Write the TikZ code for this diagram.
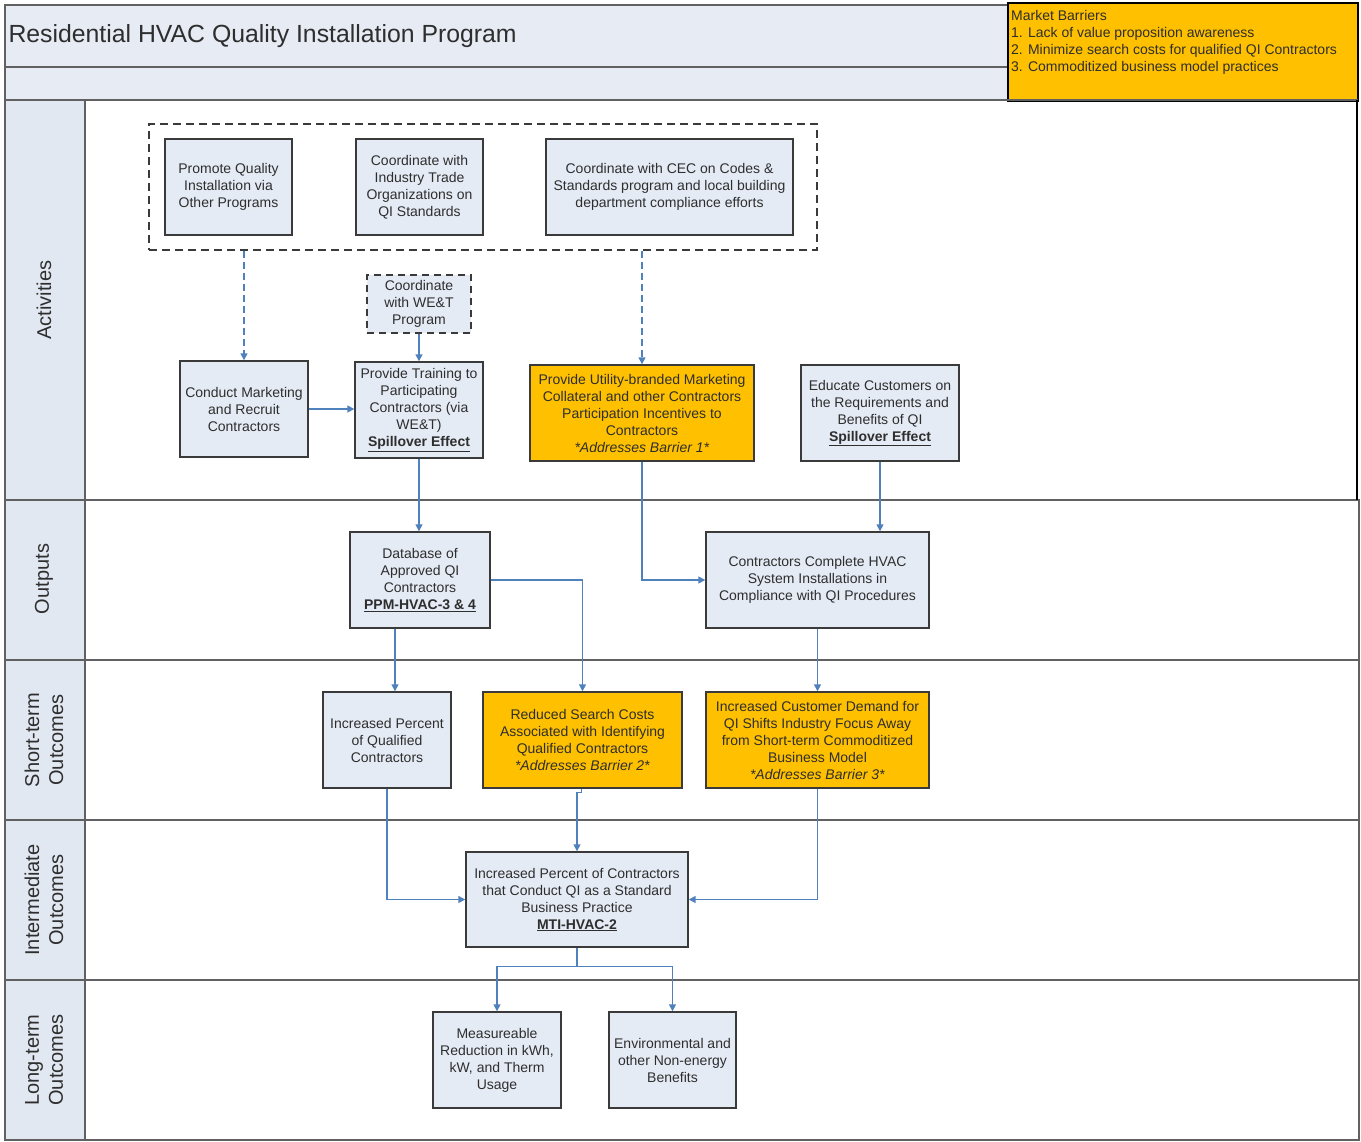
\documentclass[tikz,border=0pt]{standalone}
\usepackage{fontspec}
\setmainfont{Liberation Sans}
\usetikzlibrary{arrows.meta}

\definecolor{boxfill}{HTML}{E5EBF5}
\definecolor{bandfill}{HTML}{E6EBF4}
\definecolor{lanefill}{HTML}{E2E8F2}
\definecolor{gold}{HTML}{FFC000}
\definecolor{flow}{HTML}{4F81BD}
\definecolor{edge}{HTML}{3A3A3A}
\definecolor{txt}{HTML}{2E2E2E}

\tikzset{
  box/.style={draw=edge, fill=boxfill, line width=1.4pt, align=center,
    inner sep=2pt, text=txt, font=\fontsize{14}{17}\selectfont},
  goldbox/.style={box, fill=gold},
  dashbox/.style={box, dash pattern=on 7pt off 5pt},
  grpbox/.style={draw=edge, line width=1.4pt, dash pattern=on 8pt off 5pt},
  arr/.style={draw=flow, line width=1.5pt, -{Triangle[length=7pt,width=7pt]}},
  darr/.style={arr, dash pattern=on 7pt off 4pt},
  lanetxt/.style={rotate=90, align=center, text=txt,
    font=\fontsize{20}{24}\selectfont},
  lane/.style={draw=edge!80, line width=1.5pt}
}
\newcommand{\spill}{\textbf{\underline{Spillover Effect}}}

\begin{document}
\begin{tikzpicture}[x=1pt, y=-1pt]
\useasboundingbox (0,0) rectangle (1361,1142);
\fill[white] (0,0) rectangle (1361,1142);

% header bands
\draw[lane, fill=bandfill] (5,5) rectangle (1358,67);
\draw[lane, fill=bandfill] (5,67) rectangle (1358,100);
\node[anchor=west, text=txt, font=\fontsize{24.8}{28}\selectfont] (title) at (5,36)
  {Residential HVAC Quality Installation Program};

% market barriers panel
\draw[line width=2.4pt, fill=gold] (1008,3) rectangle (1358,101);
\node[anchor=north west, align=left, inner sep=0pt, text=txt,
  font=\fontsize{14}{17}\selectfont] (barriers) at (1011,10)
  {Market Barriers\\
   1. Lack of value proposition awareness\\
   2. Minimize search costs for qualified QI Contractors\\
   3. Commoditized business model practices};

% swim lanes
\draw[lane] (5,500) rectangle (1359,660);
\draw[lane] (5,660) rectangle (1359,820);
\draw[lane] (5,820) rectangle (1359,980);
\draw[lane] (5,980) rectangle (1359,1140);
\draw[lane] (5,100) rectangle (1357,500);
\draw[line width=2.2pt] (1357,100) -- (1357,500);
\foreach \ya/\yb in {100/500,500/660,660/820,820/980,980/1140}
  \draw[lane, fill=lanefill] (5,\ya) rectangle (85,\yb);

\node[lanetxt] (l1) at (44,300) {Activities};
\node[lanetxt] (l2) at (44,579) {Outputs};
\node[lanetxt] (l3) at (44,740) {Short-term\\Outcomes};
\node[lanetxt] (l4) at (44,900) {Intermediate\\Outcomes};
\node[lanetxt] (l5) at (44,1060) {Long-term\\Outcomes};

% activities
\node[grpbox, minimum width=668, minimum height=126] (grp) at (483,187) {};
\node[box, minimum width=127, minimum height=96] (prom) at (228.5,187)
  {Promote Quality\\Installation via\\Other Programs};
\node[box, minimum width=127, minimum height=96] (trade) at (419.5,187)
  {Coordinate with\\Industry Trade\\Organizations on\\QI Standards};
\node[box, minimum width=247, minimum height=96] (cec) at (669.5,187)
  {Coordinate with CEC on Codes \&\\Standards program and local building\\department compliance efforts};
\node[dashbox, minimum width=104, minimum height=58] (wet) at (419,304)
  {Coordinate\\with WE\&T\\Program};
\node[box, minimum width=128, minimum height=96] (mkt) at (244,409)
  {Conduct Marketing\\and Recruit\\Contractors};
\node[box, minimum width=128, minimum height=96] (train) at (419,410)
  {Provide Training to\\Participating\\Contractors (via\\WE\&T)\\\spill};
\node[goldbox, minimum width=224, minimum height=96] (util) at (642,413)
  {Provide Utility-branded Marketing\\Collateral and other Contractors\\Participation Incentives to\\Contractors\\\textit{*Addresses Barrier 1*}};
\node[box, minimum width=158, minimum height=96] (educ) at (880,413)
  {Educate Customers on\\the Requirements and\\Benefits of QI\\\spill};

% outputs
\node[box, minimum width=140, minimum height=96] (db) at (420,580)
  {Database of\\Approved QI\\Contractors\\\textbf{\underline{PPM-HVAC-3 \& 4}}};
\node[box, minimum width=223, minimum height=96] (comp) at (817.5,580)
  {Contractors Complete HVAC\\System Installations in\\Compliance with QI Procedures};

% short-term outcomes
\node[box, minimum width=128, minimum height=96] (iqc) at (387,740)
  {Increased Percent\\of Qualified\\Contractors};
\node[goldbox, minimum width=199, minimum height=96] (rsc) at (582.5,740)
  {Reduced Search Costs\\Associated with Identifying\\Qualified Contractors\\\textit{*Addresses Barrier 2*}};
\node[goldbox, minimum width=223, minimum height=96] (icd) at (817.5,740)
  {Increased Customer Demand for\\QI Shifts Industry Focus Away\\from Short-term Commoditized\\Business Model\\\textit{*Addresses Barrier 3*}};

% intermediate outcome
\node[box, minimum width=222, minimum height=95] (ipc) at (577,899.5)
  {Increased Percent of Contractors\\that Conduct QI as a Standard\\Business Practice\\\textbf{\underline{MTI-HVAC-2}}};

% long-term outcomes
\node[box, minimum width=128, minimum height=96] (meas) at (497,1060)
  {Measureable\\Reduction in kWh,\\kW, and Therm\\Usage};
\node[box, minimum width=127, minimum height=96] (env) at (672.5,1060)
  {Environmental and\\other Non-energy\\Benefits};

% connectors
\draw[darr] (grp.south -| mkt.north) -- (mkt.north);
\draw[darr] (grp.south -| util.north) -- (util.north);
\draw[arr] (wet.south) -- (wet.south |- train.north);
\draw[arr] (mkt.east) -- (mkt.east -| train.west);
\draw[arr] (train.south) -- (train.south |- db.north);
\draw[arr] (util.south) |- (comp.west);
\draw[arr] (educ.south) -- (educ.south |- comp.north);
\draw[arr] (db.east) -| (rsc.north);
\draw[arr] ([xshift=-25pt]db.south) -- ([xshift=-25pt]db.south |- iqc.north);
\draw[arr] (comp.south) -- (comp.south |- icd.north);
\draw[arr] (iqc.south) |- (ipc.west);
\draw[arr] ([xshift=-1pt]rsc.south) -- ++(0,4) -| (ipc.north);
\draw[arr] (icd.south) |- (ipc.east);
\draw[flow, line width=1.5pt] (ipc.south) -- ++(0,19) coordinate (split);
\draw[arr] (split) -| (meas.north);
\draw[arr] (split) -| (env.north);
\end{tikzpicture}
\end{document}
